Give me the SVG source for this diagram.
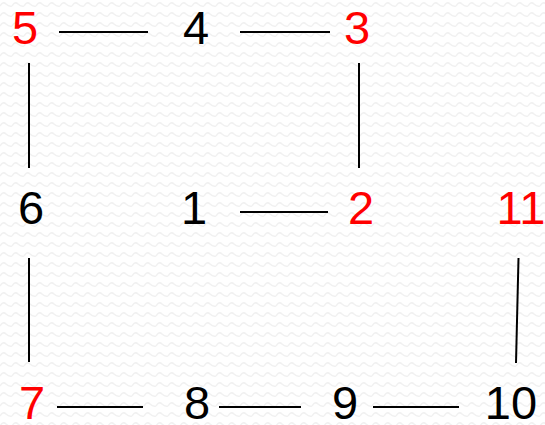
<svg xmlns="http://www.w3.org/2000/svg" width="545" height="425" viewBox="0 0 545 425">
<defs>
<pattern id="bg" width="12" height="10" patternUnits="userSpaceOnUse">
<path d="M0,6 Q3,1 6,4 T12,6" fill="none" stroke="#f1f1f1" stroke-width="1.5"/>
</pattern>
<style>
.n text{font-family:"Liberation Sans",Arial,sans-serif;font-size:47px;text-anchor:middle}
.r{fill:#ff0000}
.k{fill:#000000}
.e line{stroke:#000;stroke-width:2}
</style>
</defs>
<rect width="545" height="425" fill="#ffffff"/>
<rect width="545" height="425" fill="url(#bg)"/>
<g class="n">
<g id="n5"><text class="r" x="25" y="44">5</text></g>
<g id="n4"><text class="k" x="196" y="44">4</text></g>
<g id="n3"><text class="r" x="357" y="44">3</text></g>
<g id="n6"><text class="k" x="31" y="224">6</text></g>
<g id="n1"><text class="k" x="194" y="224">1</text></g>
<g id="n2"><text class="r" x="361" y="224">2</text></g>
<g id="n11"><text class="r" x="521" y="224">11</text></g>
<g id="n7"><text class="r" x="32" y="419">7</text></g>
<g id="n8"><text class="k" x="197" y="419">8</text></g>
<g id="n9"><text class="k" x="345" y="419">9</text></g>
<g id="n10"><text class="k" x="511" y="419">10</text></g>
</g>
<g id="edges" class="e">
<line x1="59" y1="32" x2="148" y2="32"/>
<line x1="240" y1="32" x2="330" y2="32"/>
<line x1="29" y1="63" x2="29" y2="168"/>
<line x1="359" y1="63" x2="359" y2="168"/>
<line x1="240" y1="212" x2="328" y2="212"/>
<line x1="29" y1="258" x2="29" y2="362"/>
<line x1="518.5" y1="258" x2="516" y2="363"/>
<line x1="57" y1="407" x2="143" y2="407"/>
<line x1="219" y1="407" x2="301" y2="407"/>
<line x1="373" y1="407" x2="459" y2="407"/>
</g>
</svg>
